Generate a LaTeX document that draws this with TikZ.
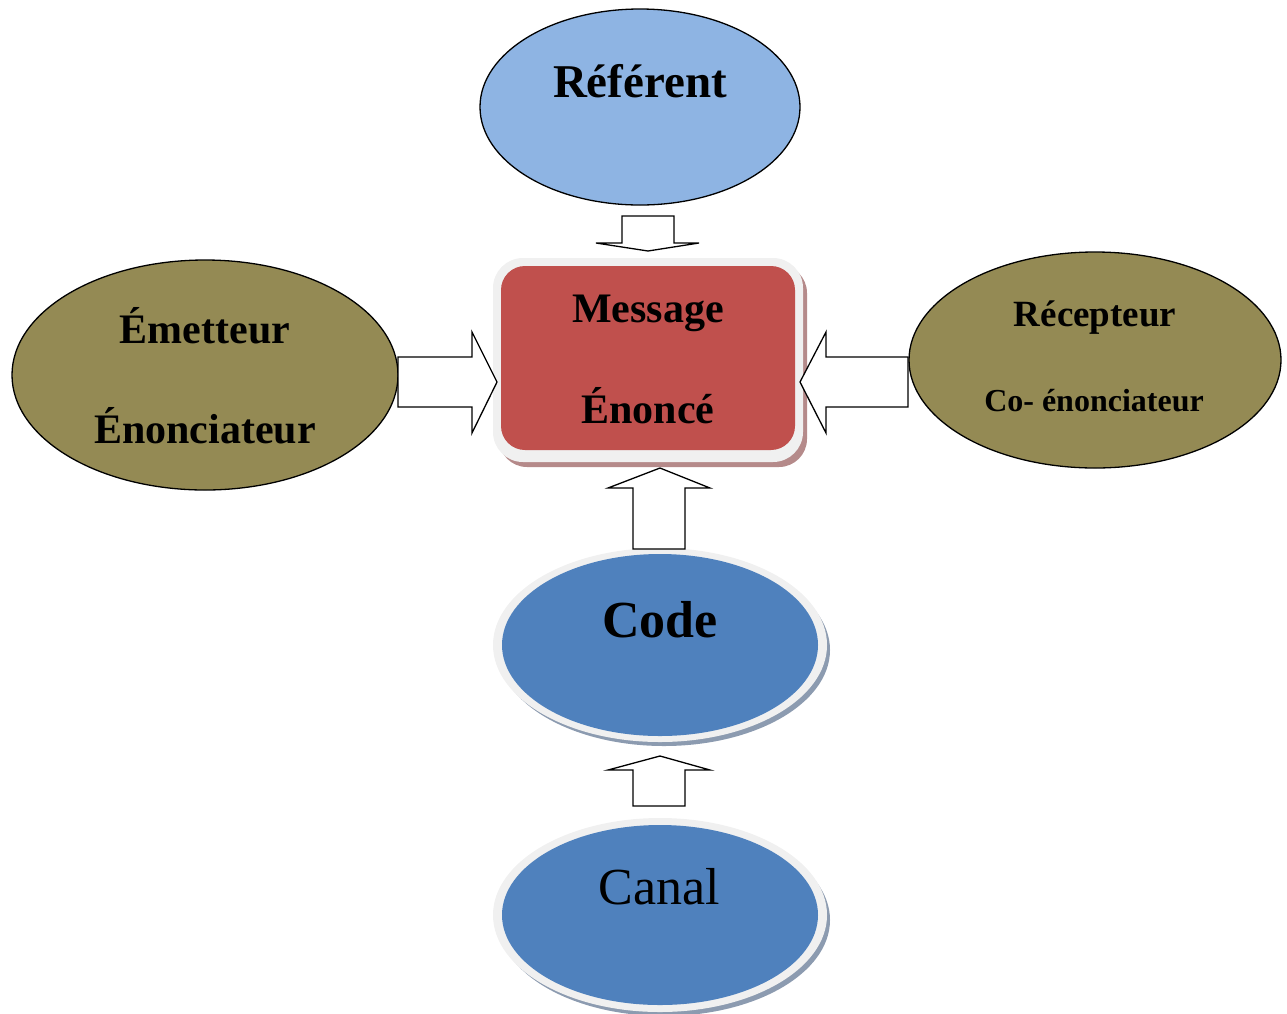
\documentclass[tikz,border=0pt]{standalone}
\usepackage{fontspec}
\setmainfont{Liberation Serif}
\usetikzlibrary{shapes.geometric}
\definecolor{refblue}{HTML}{8EB4E3}
\definecolor{olive}{HTML}{948A54}
\definecolor{msgred}{HTML}{C0504D}
\definecolor{codeblue}{HTML}{4F81BD}
\definecolor{ringgray}{HTML}{F0F0F0}
\definecolor{shadowblue}{HTML}{8C9BB0}
\definecolor{shadowred}{HTML}{B58A8A}
\tikzset{
  plainell/.style={draw=black, line width=1.3pt},
  blockarrow/.style={draw=black, line width=1.3pt, fill=white, line join=miter},
  lbl/.style={anchor=base, inner sep=0pt, font=\bfseries},
}
\begin{document}
\begin{tikzpicture}[x=1pt,y=-1pt]
\useasboundingbox (0,0) rectangle (1287,1013);
% Referent
\draw[plainell, fill=refblue] (640,107) ellipse [x radius=160, y radius=98];
\node[lbl, font=\bfseries\fontsize{47}{50}\selectfont] (ref) at (640,97) {Référent};
% Emetteur
\draw[plainell, fill=olive] (205,375) ellipse [x radius=193, y radius=115];
\node[lbl, font=\bfseries\fontsize{42}{46}\selectfont] (em1) at (205,343) {Émetteur};
\node[lbl, font=\bfseries\fontsize{42}{46}\selectfont] (em2) at (205,443) {Énonciateur};
% Recepteur
\draw[plainell, fill=olive] (1095,360) ellipse [x radius=186, y radius=108];
\node[lbl, font=\bfseries\fontsize{37}{40}\selectfont] (rc1) at (1095,326) {Récepteur};
\node[lbl, font=\bfseries\fontsize{32}{36}\selectfont] (rc2) at (1094,411) {Co- énonciateur};
% Message box
\fill[shadowred, rounded corners=28pt] (499,265) rectangle (807,467);
\fill[ringgray, rounded corners=30pt] (493,258) rectangle (803,462);
\fill[msgred, rounded corners=24pt] (501,266) rectangle (795,450);
\node[lbl, font=\bfseries\fontsize{42}{46}\selectfont] (msg) at (648,322) {Message};
\node[lbl, font=\bfseries\fontsize{42}{46}\selectfont] (eno) at (648,423) {Énoncé};
% Code
\fill[shadowblue] (664,650) ellipse [x radius=166, y radius=96];
\fill[ringgray] (660,645) ellipse [x radius=167, y radius=97];
\fill[codeblue] (660,645) ellipse [x radius=158, y radius=91];
\node[lbl, font=\bfseries\fontsize{52}{56}\selectfont] (code) at (660,637) {Code};
% Canal
\fill[shadowblue] (664,920) ellipse [x radius=166, y radius=96];
\fill[ringgray] (660,915) ellipse [x radius=167, y radius=97];
\fill[codeblue] (660,915) ellipse [x radius=158, y radius=90];
\node[lbl, font=\fontsize{52}{56}\selectfont] (canal) at (659,904) {Canal};
% Arrows
% Referent -> Message (down)
\draw[blockarrow] (622,216) -- (674,216) -- (674,243) -- (699,243) -- (648,251) -- (596,243) -- (622,243) -- cycle;
% Emetteur -> Message (right)
\draw[blockarrow] (398,357) -- (472,357) -- (472,332) -- (497,382) -- (472,433) -- (472,407) -- (398,407) -- cycle;
% Recepteur -> Message (left)
\draw[blockarrow] (908,357) -- (826,357) -- (826,332) -- (800,382) -- (826,433) -- (826,407) -- (908,407) -- cycle;
% Code -> Message (up)
\draw[blockarrow] (633,549) -- (633,488) -- (608,488) -- (660,468) -- (710,488) -- (685,488) -- (685,549) -- cycle;
% Canal -> Code (up)
\draw[blockarrow] (633,806) -- (633,770) -- (608,770) -- (660,756) -- (710,770) -- (685,770) -- (685,806) -- cycle;
\end{tikzpicture}
\end{document}
